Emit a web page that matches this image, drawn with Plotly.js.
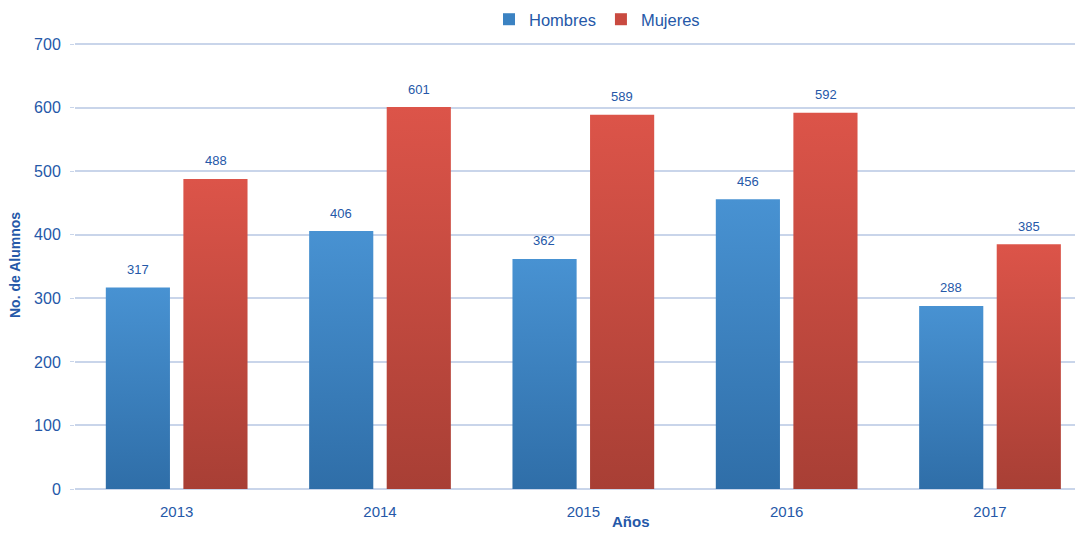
<!DOCTYPE html>
<html>
<head>
<meta charset="utf-8">
<script src="https://cdn.plot.ly/plotly-3.0.1.min.js"></script>
<style>
  html, body { margin: 0; padding: 0; background: #fff; }
  #chart { width: 1079px; height: 533px; }
</style>
</head>
<body>
<div id="chart"></div>
<script>
// alumnos por año y sexo
var years = ["2013", "2014", "2015", "2016", "2017"];
var hombres = [317, 406, 362, 456, 288];
var mujeres = [488, 601, 589, 592, 385];
var yTicks = [0, 100, 200, 300, 400, 500, 600, 700];

var labelColor = "#2558a8";
var gridColor = "#c9d5ea";

var traceH = {
  x: years,
  y: hombres,
  name: "Hombres",
  type: "bar",
  marker: { color: "#3b82c2" },
  hoverinfo: "x+y+name"
};

var traceM = {
  x: years,
  y: mujeres,
  name: "Mujeres",
  type: "bar",
  marker: { color: "#c94a40" },
  hoverinfo: "x+y+name"
};

// value labels sitting a bit above each bar (x = category index)
var annotations = [];
years.forEach(function (yr, i) {
  annotations.push({ x: i, y: hombres[i], text: String(hombres[i]), xshift: -39, yshift: 18,
    showarrow: false, font: { size: 13, color: labelColor } });
  annotations.push({ x: i, y: mujeres[i], text: String(mujeres[i]), xshift: 39, yshift: 18,
    showarrow: false, font: { size: 13, color: labelColor } });
});
annotations.push({
  text: "Años", xref: "paper", yref: "paper", x: 0.556, y: -0.073,
  yanchor: "middle", showarrow: false,
  font: { size: 15, color: labelColor, weight: "bold" }
});

var layout = {
  width: 1079,
  height: 533,
  margin: { l: 75, r: 4, t: 41, b: 44, autoexpand: false },
  paper_bgcolor: "#fff",
  plot_bgcolor: "#fff",
  font: { family: "Liberation Sans, Arial, sans-serif", color: labelColor, size: 15 },
  barmode: "group",
  bargap: 0.237,
  bargroupgap: 0.173,
  showlegend: true,
  legend: {
    orientation: "h",
    x: 0.522, xanchor: "center",
    y: 1.048, yanchor: "middle",
    font: { size: 16.5, color: labelColor },
    itemwidth: 30
  },
  xaxis: {
    type: "category",
    range: [-0.5, 4.418],
    showgrid: false,
    showline: false,
    zeroline: false,
    ticks: "",
    ticklabelstandoff: 12,
    tickfont: { size: 15, color: labelColor }
  },
  yaxis: {
    range: [0, 705],
    tickvals: yTicks,
    showgrid: true,
    gridcolor: gridColor,
    gridwidth: 1.5,
    zeroline: true,
    zerolinecolor: gridColor,
    zerolinewidth: 1.5,
    ticks: "outside",
    ticklen: 4,
    tickcolor: gridColor,
    ticklabelstandoff: 6,
    tickfont: { size: 16, color: labelColor },
    title: { text: "No. de Alumnos", font: { size: 14, color: labelColor, weight: "bold" }, standoff: 10 }
  },
  annotations: annotations
};

function addGradients(gd) {
  // vertical gradient on each bar, lighter at the top
  var svg = gd.querySelector(".main-svg");
  if (!svg) return;
  var defs = svg.querySelector("defs");
  if (!defs.querySelector("#gradH")) {
    defs.insertAdjacentHTML("beforeend",
      '<linearGradient id="gradH" x1="0" y1="0" x2="0" y2="1">' +
      '<stop offset="0" stop-color="#4892d2"/><stop offset="1" stop-color="#2f6ea8"/></linearGradient>' +
      '<linearGradient id="gradM" x1="0" y1="0" x2="0" y2="1">' +
      '<stop offset="0" stop-color="#dc5449"/><stop offset="1" stop-color="#a83f35"/></linearGradient>');
  }
  var traces = gd.querySelectorAll(".barlayer .trace");
  traces.forEach(function (t, i) {
    var id = i === 0 ? "gradH" : "gradM";
    t.querySelectorAll("path").forEach(function (p) {
      p.style.fill = "url(#" + id + ")";
    });
  });
}

Plotly.newPlot("chart", [traceH, traceM], layout, { displayModeBar: false }).then(function (gd) {
  addGradients(gd);
  gd.on("plotly_afterplot", function () { addGradients(gd); });
});
</script>
</body>
</html>
